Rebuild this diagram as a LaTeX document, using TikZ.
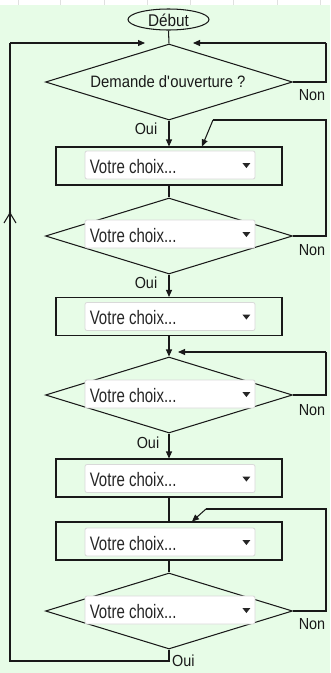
\documentclass[tikz,border=0pt]{standalone}
\usepackage{fontspec}
\setmainfont{Liberation Sans}
\newfontfamily\combofont[FakeStretch=0.77]{Liberation Sans}
\newfontfamily\lblfont[FakeStretch=0.9]{Liberation Sans}
\usetikzlibrary{shapes.geometric,arrows.meta,calc}
\definecolor{bg}{RGB}{231,252,231}
\definecolor{ink}{RGB}{25,25,25}
\newcommand\mycombo[2]{%
  \node[combo] (#1) at (#2) {};
  \node[ctext] (#1t) at ($(#1.west)+(5,1.5)$) {Votre choix...};
  \fill[black!85] ($(#1.east)+(-13,-2)$) -- ++(8,0) -- ++(-4,5) -- cycle;
}
\begin{document}
\begin{tikzpicture}[x=1pt,y=-1pt,
  ln/.style={draw=ink,line width=1.05pt},
  arr/.style={ln,-{Triangle[length=7pt,width=6pt]}},
  dia/.style={diamond,draw=ink,line width=1.05pt,minimum width=247pt,minimum height=76pt,inner sep=0pt},
  boxnode/.style={rectangle,draw=ink,line width=1.05pt,minimum width=226pt,minimum height=38pt,inner sep=0pt},
  combo/.style={rectangle,rounded corners=2pt,fill=white,draw=black!15,line width=0.8pt,minimum width=170pt,minimum height=28pt,inner sep=0pt},
  lbl/.style={font=\lblfont\fontsize{16}{18}\selectfont,inner sep=0pt,text=ink},
  ctext/.style={font=\combofont\fontsize{19.5}{22}\selectfont,inner sep=0pt,anchor=west,text=black!85},
]
\useasboundingbox (0,0) rectangle (330,673);
\fill[bg] (0,5) rectangle (330,673);
\fill[white] (0,0) rectangle (330,5);
\foreach \gx in {18,60,104,147,190,233,277,320} \draw[black!12,line width=0.8pt] (\gx,0) -- (\gx,5);

% start
\node[ellipse,draw=ink,line width=1.05pt,minimum width=81pt,minimum height=21pt,inner sep=0pt] (debut) at (168.5,19.5) {};
\node[lbl,font=\lblfont\fontsize{17}{19}\selectfont] (debutt) at (168.5,20) {Début};

% diamonds
\node[dia] (d1) at (169,82) {};
\node[lbl,font=\lblfont\fontsize{16.5}{18}\selectfont] (q1) at (168,82) {Demande d\textquotesingle ouverture ?};
\node[dia] (d2) at (169,236) {};
\node[dia] (d3) at (169,395) {};
\node[dia] (d4) at (169,611) {};

% boxes
\node[boxnode] (b1) at (169,166) {};
\node[boxnode] (b2) at (169,316.5) {};
\node[boxnode] (b3) at (169,478) {};
\node[boxnode] (b4) at (169,541) {};

% combos
\mycombo{c1}{170,165}
\mycombo{cd2}{170,234}
\mycombo{c2}{170,316.5}
\mycombo{cd3}{170,394}
\mycombo{c3}{170,478.5}
\mycombo{c4}{170,542}
\mycombo{cd4}{170,610}

% coordinates
\coordinate (topL) at (10,43);
\coordinate (inL) at (145,43);
\coordinate (botL) at (10,661);
\coordinate (chev) at (10,213);
\coordinate (r1t) at (326,43);
\coordinate (inR) at (193,43);
\coordinate (r1b) at (326,82);
\coordinate (r2b) at (326,236);
\coordinate (r2t) at (326,120);
\coordinate (r2k) at (213,120);
\coordinate (r3b) at (326,395);
\coordinate (r3t) at (326,352);
\coordinate (in3) at (178,352);
\coordinate (r4b) at (326,611);
\coordinate (r4t) at (326,509);
\coordinate (r4k) at (206,509);

% connectors
\draw[ln] (debut.south) -- (d1.north);
\draw[arr] (d1.south) -- (b1.north);
\draw[ln] (b1.south) -- (d2.north);
\draw[arr] (d2.south) -- (b2.north);
\draw[arr] (b2.south) -- (d3.north);
\draw[arr] (d3.south) -- (b3.north);
\draw[ln] (b3.south) -- (b4.north);
\draw[ln] (b4.south) -- (d4.north);

% main loop (Oui at the end)
\draw[ln] (d4.south) |- (botL) -- (topL);
\draw[arr] (topL) -- (inL);
\draw[ln,line join=miter] ($(chev)+(-6,10)$) -- (chev) -- ($(chev)+(6,10)$);
\fill[ink] (chev) circle (1.3pt);

% Non loops
\draw[ln] (d1.east) -- (r1b) -- (r1t);
\draw[arr] (r1t) -- (inR);
\draw[ln] (d2.east) -- (r2b) -- (r2t) -- (r2k);
\draw[arr] (r2k) -- ($(b1.north)+(33,0)$);
\draw[ln] (d3.east) -- (r3b) -- (r3t);
\draw[arr] (r3t) -- (in3);
\draw[ln] (d4.east) -- (r4b) -- (r4t) -- (r4k);
\draw[arr] (r4k) -- ($(b4.north)+(23,0)$);

% labels
\node[lbl] (o1) at (146,129) {Oui};
\node[lbl] (o2) at (146,283) {Oui};
\node[lbl] (o3) at (148,443) {Oui};
\node[lbl,anchor=west] (o4) at (172,661) {Oui};
\node[lbl] (n1) at (312,95) {Non};
\node[lbl] (n2) at (312,250) {Non};
\node[lbl] (n3) at (312,410) {Non};
\node[lbl] (n4) at (312,624) {Non};
\end{tikzpicture}
\end{document}
